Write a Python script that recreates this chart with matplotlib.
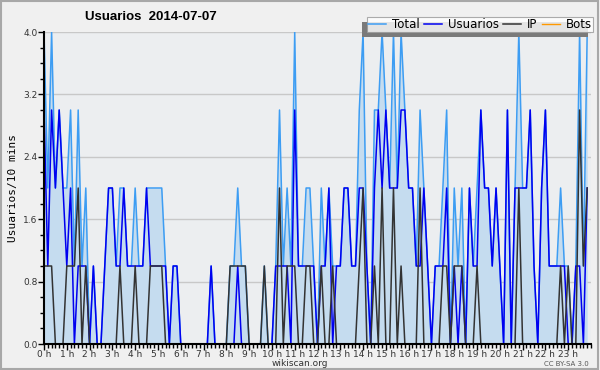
import numpy as np
import matplotlib
matplotlib.use('Agg')
from matplotlib import pyplot as plt
from matplotlib.ticker import MultipleLocator
from matplotlib.patches import Rectangle
from matplotlib.transforms import IdentityTransform

# valores cada 10 minutos (144 puntos)
total = [4, 2, 4, 2, 3, 2, 2, 3, 1, 3, 1, 2,
         0, 1, 0, 0, 1, 2, 2, 1, 2, 2, 1, 1,
         2, 1, 1, 2, 2, 2, 2, 2, 1, 0, 1, 1,
         0, 0, 0, 0, 0, 0, 0, 0, 1, 0, 0, 0,
         0, 1, 1, 2, 1, 1, 0, 0, 0, 0, 1, 0,
         0, 1, 3, 1, 2, 1, 4, 1, 1, 2, 2, 1,
         0, 2, 1, 2, 1, 1, 1, 2, 2, 1, 1, 3,
         4, 1, 0, 3, 3, 4, 3, 2, 4, 2, 4, 3,
         2, 2, 1, 3, 2, 1, 0, 1, 1, 2, 3, 0,
         2, 1, 2, 0, 2, 1, 2, 3, 2, 2, 1, 2,
         1, 0, 3, 0, 2, 4, 2, 2, 3, 1, 0, 2,
         3, 1, 1, 1, 2, 1, 1, 0, 1, 4, 1, 4]
usuarios = [3, 1, 3, 2, 3, 2, 1, 2, 0, 1, 1, 1,
            0, 1, 0, 0, 1, 2, 2, 1, 1, 2, 1, 1,
            1, 1, 1, 2, 1, 1, 1, 1, 1, 0, 1, 1,
            0, 0, 0, 0, 0, 0, 0, 0, 1, 0, 0, 0,
            0, 0, 0, 1, 0, 0, 0, 0, 0, 0, 0, 0,
            0, 1, 1, 1, 1, 0, 3, 1, 1, 1, 1, 1,
            0, 1, 1, 2, 0, 1, 1, 2, 2, 1, 1, 2,
            2, 1, 0, 2, 3, 2, 3, 2, 2, 2, 3, 3,
            2, 2, 1, 1, 2, 1, 0, 1, 1, 1, 2, 0,
            1, 0, 1, 0, 2, 1, 1, 3, 2, 2, 1, 2,
            1, 0, 3, 0, 2, 2, 2, 2, 3, 1, 0, 2,
            3, 1, 1, 1, 1, 1, 0, 0, 1, 1, 0, 2]
ip = [1, 1, 1, 0, 0, 0, 1, 1, 1, 2, 0, 1,
      0, 0, 0, 0, 0, 0, 0, 0, 1, 0, 0, 0,
      1, 0, 0, 0, 1, 1, 1, 1, 0, 0, 0, 0,
      0, 0, 0, 0, 0, 0, 0, 0, 0, 0, 0, 0,
      0, 1, 1, 1, 1, 1, 0, 0, 0, 0, 1, 0,
      0, 0, 2, 0, 1, 1, 1, 0, 0, 1, 1, 0,
      0, 1, 0, 0, 1, 0, 0, 0, 0, 0, 0, 1,
      2, 0, 0, 1, 0, 2, 0, 0, 2, 0, 1, 0,
      0, 0, 0, 2, 0, 0, 0, 0, 0, 1, 1, 0,
      1, 1, 1, 0, 0, 0, 1, 0, 0, 0, 0, 0,
      0, 0, 0, 0, 0, 2, 0, 0, 0, 0, 0, 0,
      0, 0, 0, 0, 1, 0, 1, 0, 0, 3, 1, 2]
bots = [0] * 144
hour_labels = ['0 h', '1 h', '2 h', '3 h', '4 h', '5 h', '6 h', '7 h',
               '8 h', '9 h', '10 h', '11 h', '12 h', '13 h', '14 h', '15 h',
               '16 h', '17 h', '18 h', '19 h', '20 h', '21 h', '22 h', '23 h']

x = np.arange(len(total))

fig = plt.figure(figsize=(6, 3.7), dpi=100, facecolor='#f0f0f0')
# borde gris alrededor de la figura
fig.patches.append(Rectangle((0.002, 0.003), 0.995, 0.993, transform=fig.transFigure,
                             fill=False, edgecolor='#a8a8a8', lw=1.5))

ax = fig.add_axes([44 / 600, 1 - 344 / 370, 547 / 600, 312 / 370])
ax.set_facecolor('#eceef0')

ax.fill_between(x, total, 0, color='#c5dcef', lw=0, zorder=1)
ax.plot(x, bots, color='#ff9900', lw=1, zorder=1.5, label='Bots')
ax.plot(x, total, color='#3d9df3', lw=1.1, zorder=2, label='Total')
ax.plot(x, usuarios, color='#0000f0', lw=1.1, zorder=2.2, label='Usuarios')
ax.plot(x, ip, color='#333333', lw=1.1, zorder=2.3, label='IP')

ax.set_xlim(0, 144)
ax.set_ylim(0, 4)

ax.yaxis.set_minor_locator(MultipleLocator(0.2))
ax.set_yticks([0, 0.8, 1.6, 2.4, 3.2, 4.0])
ax.set_yticklabels(['0.0', '0.8', '1.6', '2.4', '3.2', '4.0'])
ax.set_xticks(np.arange(0, 144, 6))
ax.set_xticklabels(hour_labels)
ax.xaxis.set_minor_locator(MultipleLocator(1))
ax.tick_params(axis='both', which='major', length=4, width=1, labelsize=6.5,
               labelcolor='#333333', pad=0.5)
ax.tick_params(axis='both', which='minor', length=3, width=1)

ax.grid(axis='y', color='#c8c8c8', lw=1)
ax.set_axisbelow(True)
for s in ('top', 'right'):
    ax.spines[s].set_visible(False)
for s in ('left', 'bottom'):
    ax.spines[s].set_linewidth(1.5)
    ax.spines[s].set_zorder(3)

ax.set_ylabel('Usuarios/10 mins', family='DejaVu Sans Mono', fontsize=8, labelpad=4)

fig.text(85 / 600, 1 - 17 / 370, 'Usuarios  2014-07-07', fontsize=9.5,
         family='Liberation Sans', fontweight='bold', va='center', ha='left')
fig.text(300 / 600, 1 - 363 / 370, 'wikiscan.org', fontsize=6.5, color='#333333',
         ha='center', va='center')
fig.text(589 / 600, 1 - 364 / 370, 'CC BY-SA 3.0', fontsize=5, color='#555555',
         ha='right', va='center')

handles, labels = ax.get_legend_handles_labels()
order = [1, 2, 3, 0]
leg = fig.legend([handles[i] for i in order], [labels[i] for i in order],
                 loc='upper right', bbox_to_anchor=(593 / 600, 1 - 17 / 370),
                 ncol=4, fontsize=8.5, frameon=True, fancybox=False,
                 handlelength=1.5, handletextpad=0.5, columnspacing=0.4,
                 borderpad=0.1, borderaxespad=0)
leg.get_frame().set_edgecolor('#999999')
leg.get_frame().set_linewidth(0.8)
leg.set_zorder(5)

# sombra de la leyenda, abajo a la izquierda
fig.canvas.draw()
bb = leg.get_window_extent()
fig.patches.append(Rectangle((bb.x0 - 5, bb.y0 - 5), bb.width, bb.height,
                             transform=IdentityTransform(), facecolor='#7a7a7a',
                             edgecolor='none', zorder=4))

plt.savefig('out.png', dpi=100, facecolor=fig.get_facecolor())
